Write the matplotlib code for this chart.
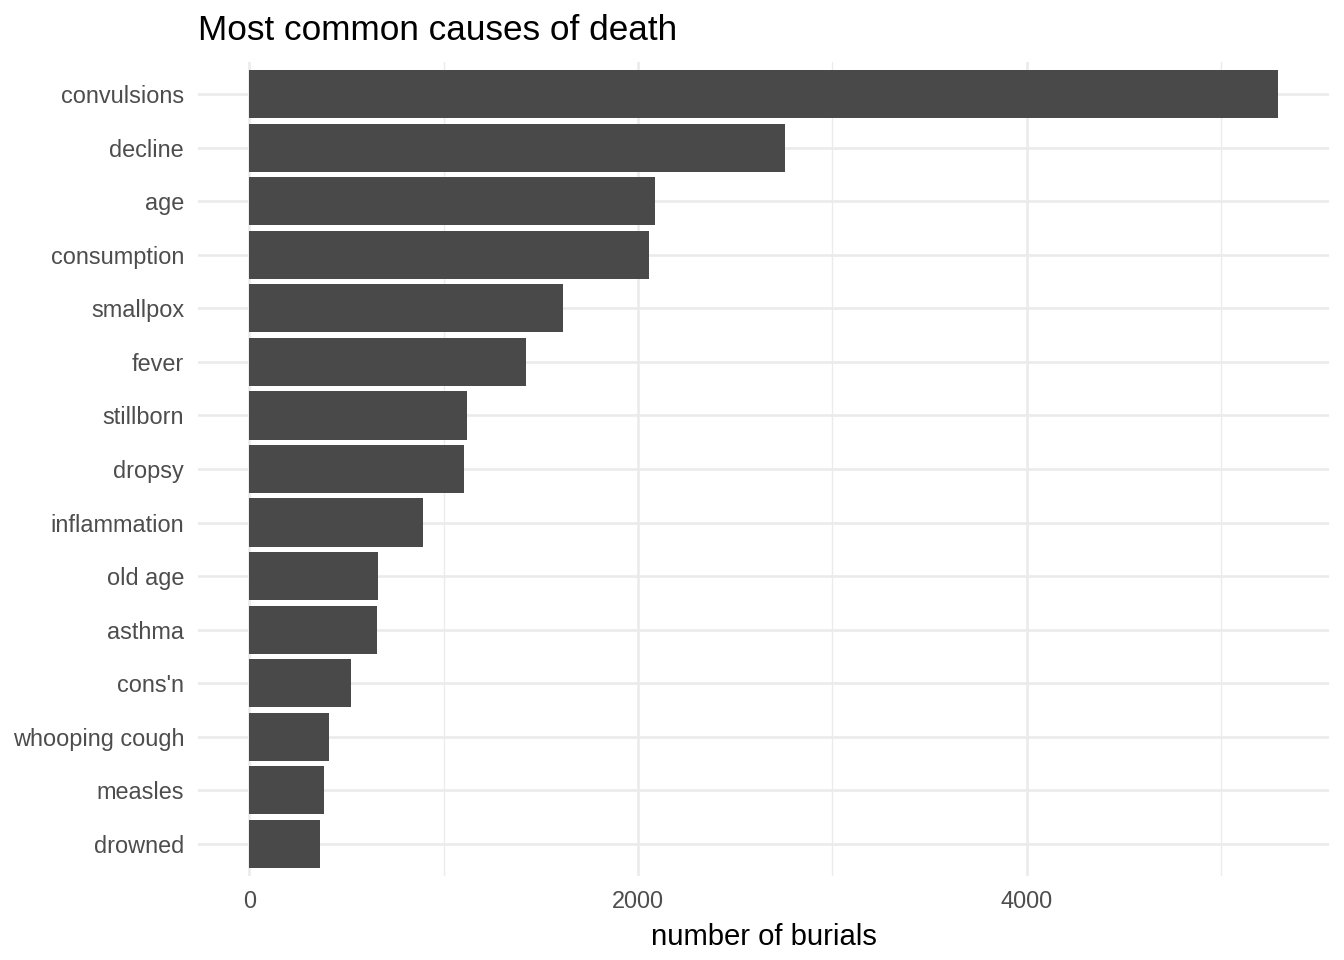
import matplotlib
matplotlib.use("Agg")
import matplotlib.pyplot as plt
from matplotlib.ticker import MultipleLocator

causes = ["convulsions", "decline", "age", "consumption", "smallpox", "fever",
          "stillborn", "dropsy", "inflammation", "old age", "asthma", "cons'n",
          "whooping cough", "measles", "drowned"]
burials = [5292, 2755, 2086, 2056, 1613, 1423, 1119, 1104, 893, 661, 656, 522,
           409, 383, 363]

plt.rcParams['font.family'] = ['Liberation Sans', 'DejaVu Sans']

fig = plt.figure(figsize=(13.44, 9.6), dpi=100)
ax = fig.add_axes([198/1344, 1-876/960, (1329-198)/1344, (876-62)/960])

n = len(causes)
ypos = list(range(n))[::-1]
ax.barh(ypos, burials, height=0.9, color='#494949', zorder=3)

xmax = max(burials)
ax.set_xlim(-0.05*xmax, 1.05*xmax)
ax.set_ylim(-0.6, n-1+0.6)
ax.set_yticks(ypos)
ax.set_yticklabels(causes)
ax.xaxis.set_major_locator(MultipleLocator(2000))
ax.xaxis.set_minor_locator(MultipleLocator(1000))

ax.grid(which='major', axis='both', color='#EBEBEB', linewidth=1.9, zorder=0)
ax.grid(which='minor', axis='x', color='#EBEBEB', linewidth=0.95, zorder=0)
ax.set_axisbelow(True)
for s in ax.spines.values():
    s.set_visible(False)
ax.tick_params(axis='both', which='both', length=0, labelsize=16.9, labelcolor='#4D4D4D')
ax.tick_params(axis='y', pad=10)
ax.tick_params(axis='x', pad=10)

ax.set_xlabel("number of burials", fontsize=21.1, color='black', labelpad=7)
fig.text(198/1344, 1-40/960, "Most common causes of death", fontsize=25.3,
         ha='left', va='baseline', color='black')

fig.savefig("out.png", dpi=100)
